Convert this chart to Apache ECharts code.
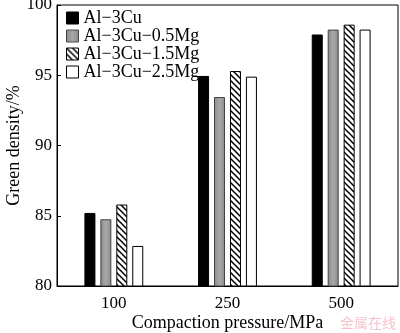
<!DOCTYPE html>
<html><head><meta charset="utf-8">
<script src="https://cdn.jsdelivr.net/npm/echarts@6/dist/echarts.min.js"></script>
<style>html,body{margin:0;padding:0;background:#fff}#c{width:400px;height:333px}</style>
</head><body><div id="c"></div>
<script>
const categories = ['100', '250', '500'];
const seriesNames = ['Al\u22123Cu', 'Al\u22123Cu\u22120.5Mg', 'Al\u22123Cu\u22121.5Mg', 'Al\u22123Cu\u22122.5Mg'];
const alCu = [85.2, 94.95, 97.9];
const alCu05 = [84.75, 93.45, 98.25];
const alCu15 = [85.8, 95.3, 98.6];
const alCu25 = [82.85, 94.9, 98.25];
const yTicks = [80, 85, 90, 95, 100];

function hatch() {
  const c = document.createElement('canvas');
  c.width = 6; c.height = 6;
  const g = c.getContext('2d');
  g.fillStyle = '#fff'; g.fillRect(0, 0, 6, 6);
  g.strokeStyle = '#000'; g.lineWidth = 1.5;
  g.beginPath();
  g.moveTo(-1, -1); g.lineTo(7, 7);
  g.moveTo(-1, 5); g.lineTo(1, 7);
  g.moveTo(5, -1); g.lineTo(7, 1);
  g.stroke();
  return c;
}
const hatchPattern = { image: hatch(), repeat: 'repeat' };
const grayFill = { type: 'linear', x: 0, y: 0, x2: 1, y2: 0, colorStops: [
  { offset: 0, color: '#8a8a8a' }, { offset: 0.5, color: '#a8a8a8' }, { offset: 1, color: '#8a8a8a' }] };

const styles = [
  { color: '#000', borderColor: '#000', borderWidth: 1 },
  { color: grayFill, borderColor: '#444', borderWidth: 1 },
  { color: hatchPattern, borderColor: '#000', borderWidth: 1 },
  { color: '#fff', borderColor: '#000', borderWidth: 1 }
];
const data = [alCu, alCu05, alCu15, alCu25];
const font = 'Liberation Serif';

const chart = echarts.init(document.getElementById('c'), null, { renderer: 'canvas' });
chart.setOption({
  animation: false,
  backgroundColor: '#fff',
  textStyle: { fontFamily: font },
  legend: {
    orient: 'vertical', left: 61, top: 4, itemWidth: 12, itemHeight: 12, itemGap: 0, icon: 'rect',
    textStyle: { fontFamily: font, fontSize: 18, lineHeight: 17, color: '#000', padding: [0, 0, 0, 0] },
    data: seriesNames.map((n, i) => ({ name: n, itemStyle: styles[i] }))
  },
  grid: { left: 57, right: 2, top: 5, bottom: 47, outerBoundsMode: 'none', containLabel: false,
    show: true, borderColor: '#000', borderWidth: 1, backgroundColor: 'transparent' },
  xAxis: {
    type: 'category', data: categories, boundaryGap: true,
    name: 'Compaction pressure/MPa', nameLocation: 'middle', nameGap: 28, nameMoveOverlap: false,
    nameTextStyle: { fontFamily: font, fontSize: 18, color: '#000' },
    axisLine: { lineStyle: { color: '#000' } }, axisTick: { show: false },
    axisLabel: { fontFamily: font, fontSize: 17, color: '#000', margin: 9 }
  },
  yAxis: {
    type: 'value', min: 80, max: 100, interval: 5,
    name: 'Green density/%', nameLocation: 'middle', nameGap: 34, nameMoveOverlap: false,
    nameTextStyle: { fontFamily: font, fontSize: 18, color: '#000' },
    axisLine: { show: true, lineStyle: { color: '#000' } },
    axisTick: { show: true, inside: true, length: 4, lineStyle: { color: '#000' } },
    axisLabel: { fontFamily: font, fontSize: 17, color: '#000', margin: 5,
      formatter: v => yTicks.includes(v) ? String(v) : '' },
    splitLine: { show: false }
  },
  graphic: [{ type: 'text', right: 4, bottom: 3, style: { text: '金属在线', fontFamily: 'Noto Sans CJK SC', fontSize: 14, fill: 'rgba(230,120,140,0.45)' } }],
  series: data.map((d, i) => ({
    name: seriesNames[i], type: 'bar', data: d, barWidth: 11, barGap: '45%',
    itemStyle: styles[i]
  }))
});
</script></body></html>
